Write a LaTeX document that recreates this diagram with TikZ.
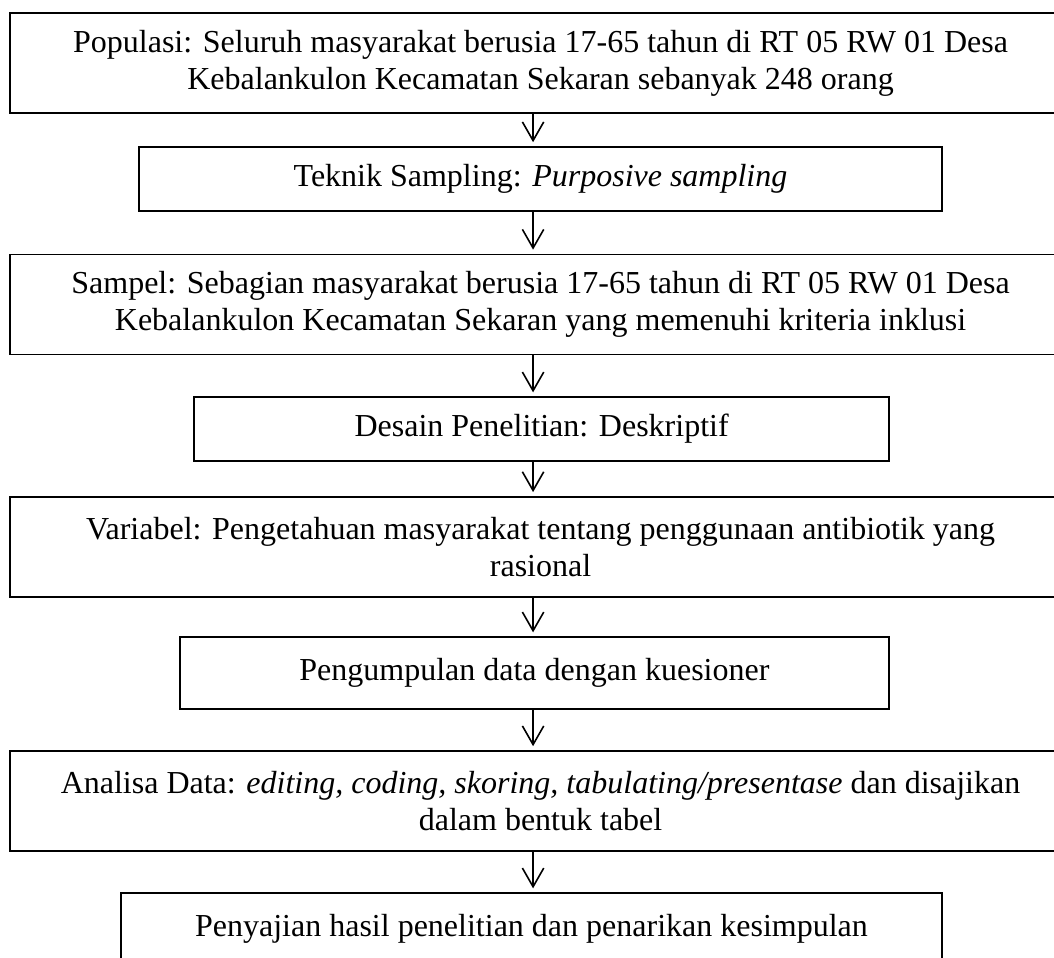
\documentclass[tikz,border=0pt]{standalone}
\usepackage{fontspec}
\setmainfont{Liberation Serif}
\usetikzlibrary{arrows.meta}

\begin{document}
\begin{tikzpicture}[
  box/.style={draw=black, line width=0.55pt, align=center, inner sep=0pt,
    font=\fontsize{12pt}{13.9pt}\selectfont},
  widebox/.style={box, minimum width=397.9pt, minimum height=37.6pt},
  arr/.style={-{Straight Barb[length=7pt,width=8pt]}, line width=0.6pt}]
  \clip (0,0) rectangle (395.25pt,-358.9pt);

  \node[widebox] (pop) at (202.7pt,-23.6pt)
    {Populasi: Seluruh masyarakat berusia 17-65 tahun di RT 05 RW 01 Desa\\
     Kebalankulon Kecamatan Sekaran sebanyak 248 orang};
  \node[box, minimum width=301.1pt, minimum height=24pt] (teknik) at (202.7pt,-67.1pt)
    {Teknik Sampling: \textit{Purposive sampling}};
  \node[widebox] (sampel) at (202.7pt,-114.2pt)
    {Sampel: Sebagian masyarakat berusia 17-65 tahun di RT 05 RW 01 Desa\\
     Kebalankulon Kecamatan Sekaran yang memenuhi kriteria inklusi};
  \node[box, minimum width=260.6pt, minimum height=24pt] (desain) at (203.1pt,-160.9pt)
    {Desain Penelitian: Deskriptif};
  \node[widebox] (variabel) at (202.7pt,-205.1pt)
    {Variabel: Pengetahuan masyarakat tentang penggunaan antibiotik yang\\
     rasional};
  \node[box, minimum width=265.9pt, minimum height=27pt] (kumpul) at (200.4pt,-252.4pt)
    {Pengumpulan data dengan kuesioner};
  \node[widebox] (analisa) at (202.7pt,-300.4pt)
    {Analisa Data: \textit{editing, coding, skoring, tabulating/presentase} dan disajikan\\
     dalam bentuk tabel};
  \node[box, minimum width=307.9pt, minimum height=27pt] (saji) at (199.3pt,-348.4pt)
    {Penyajian hasil penelitian dan penarikan kesimpulan};

  % arrows
  \coordinate (ax) at (199.9pt,0);
  \draw[arr] (pop.south -| ax) -- ([yshift=1.5pt]teknik.north -| ax);
  \draw[arr] (teknik.south -| ax) -- ([yshift=1.5pt]sampel.north -| ax);
  \draw[arr] (sampel.south -| ax) -- ([yshift=1.5pt]desain.north -| ax);
  \draw[arr] (desain.south -| ax) -- ([yshift=1.5pt]variabel.north -| ax);
  \draw[arr] (variabel.south -| ax) -- ([yshift=1.5pt]kumpul.north -| ax);
  \draw[arr] (kumpul.south -| ax) -- ([yshift=1.5pt]analisa.north -| ax);
  \draw[arr] (analisa.south -| ax) -- ([yshift=1.5pt]saji.north -| ax);
\end{tikzpicture}
\end{document}
